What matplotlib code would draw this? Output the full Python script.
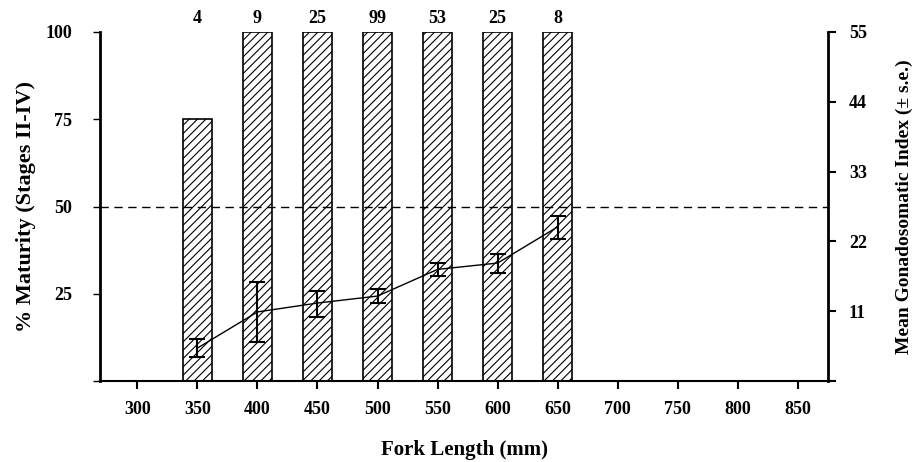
import matplotlib
matplotlib.use('Agg')
import matplotlib.pyplot as plt

# data
fork_length = [350, 400, 450, 500, 550, 600, 650]
pct_mature = [75, 100, 100, 100, 100, 100, 100]
n_fish = ['4', '9', '25', '99', '53', '25', '8']
gsi_mean = [5.2, 10.9, 12.3, 13.4, 17.6, 18.6, 24.3]
gsi_low = [3.8, 6.1, 10.1, 12.3, 16.5, 17.0, 22.4]
gsi_high = [6.6, 15.6, 14.2, 14.5, 18.6, 20.0, 26.0]

x_ticks = [300, 350, 400, 450, 500, 550, 600, 650, 700, 750, 800, 850]
left_ticks = [0, 25, 50, 75, 100]
left_labels = ['', '25', '50', '75', '100']
right_ticks = [0, 11, 22, 33, 44, 55]
right_labels = ['', '11', '22', '33', '44', '55']

plt.rcParams['font.family'] = ['Liberation Serif', 'DejaVu Serif']
plt.rcParams['font.weight'] = 'bold'
plt.rcParams['hatch.linewidth'] = 0.8

fig = plt.figure(figsize=(9.18, 4.62), dpi=100)
ax = fig.add_axes([0.109, 0.175, 0.793, 0.756])

ax.bar(fork_length, pct_mature, width=24, color='white', edgecolor='black',
       hatch='////', linewidth=1.2, zorder=2)
for xv, n in zip(fork_length, n_fish):
    ax.text(xv, 101.5, n, ha='center', va='bottom', fontsize=13, fontweight='bold')

ax.axhline(50, color='black', linestyle=(0, (6, 4)), linewidth=1, zorder=3)

ax.set_xlim(269, 875)
ax.set_ylim(0, 100)
ax.set_xticks(x_ticks)
ax.set_yticks(left_ticks)
ax.set_yticklabels(left_labels)
ax.spines['top'].set_visible(False)
ax.spines['right'].set_visible(False)
ax.spines['left'].set_linewidth(2)
ax.spines['bottom'].set_linewidth(1.5)
ax.tick_params(axis='y', direction='out', length=5, width=1, pad=15, labelsize=13)
ax.tick_params(axis='x', direction='out', length=6, width=1.5, pad=8, labelsize=13)
ax.set_xlabel('Fork Length (mm)', fontsize=15, fontweight='bold', labelpad=16)
ax.set_ylabel('% Maturity (Stages II-IV)', fontsize=16, fontweight='bold', labelpad=7)

ax2 = ax.twinx()
yerr = [[m - lo for m, lo in zip(gsi_mean, gsi_low)],
        [hi - m for m, hi in zip(gsi_mean, gsi_high)]]
ax2.errorbar(fork_length, gsi_mean, yerr=yerr, color='black', linewidth=1,
             elinewidth=1.5, capsize=5.5, capthick=1.5, zorder=4)
ax2.set_ylim(0, 55)
ax2.set_yticks(right_ticks)
ax2.set_yticklabels(right_labels)
for s in ['top', 'left', 'bottom']:
    ax2.spines[s].set_visible(False)
ax2.spines['right'].set_linewidth(2)
ax2.tick_params(axis='y', direction='out', length=6, width=1.5, pad=9, labelsize=13)
ax2.set_ylabel('Mean Gonadosomatic Index (\u00b1 s.e.)', fontsize=14,
               fontweight='bold', labelpad=21)

fig.savefig('out.png', dpi=100)
